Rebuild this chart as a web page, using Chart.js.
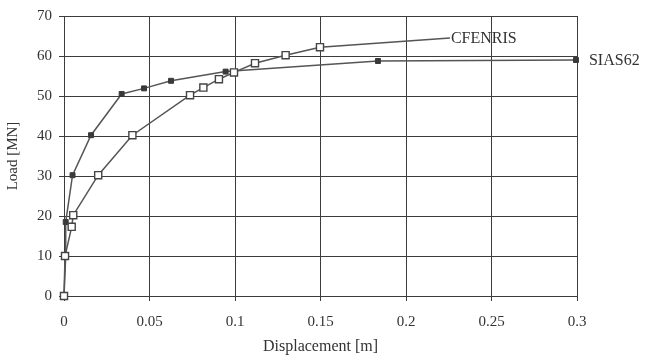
<!DOCTYPE html>
<html>
<head>
<meta charset="utf-8">
<script src="https://cdn.jsdelivr.net/npm/chart.js@4"></script>
<style>
  html, body { margin: 0; padding: 0; background: #fff; }
  #wrap { width: 646px; height: 355px; position: relative; }
</style>
</head>
<body>
<div id="wrap"><canvas id="loadChart"></canvas></div>
<script>
// Series data
const fenrisX = [0, 0.0006, 0.0045, 0.0054, 0.020, 0.040, 0.0737, 0.0815, 0.0906, 0.0994, 0.1117, 0.1296, 0.1497, 0.2257];
const fenrisY = [0, 10, 17.3, 20.2, 30.2, 40.2, 50.2, 52.1, 54.2, 55.9, 58.2, 60.2, 62.2, 64.5];
const siasX = [0, 0.001, 0.001, 0.005, 0.0158, 0.0337, 0.0468, 0.0626, 0.0945, 0.1836, 0.2994];
const siasY = [0, 10, 18.5, 30.2, 40.2, 50.5, 51.9, 53.8, 56.1, 58.75, 59];
const seriesNames = ['CFENRIS', 'SIAS62'];
const xTicks = [0, 0.05, 0.1, 0.15, 0.2, 0.25, 0.3];
const yTicks = [0, 10, 20, 30, 40, 50, 60, 70];

const serif = '"Liberation Serif", "DejaVu Serif", serif';
const toPoints = (xs, ys) => xs.map((x, i) => ({ x: x, y: ys[i] }));

// last point of FENRIS line has no marker (label sits there)
const fenrisRadius = fenrisX.map((_, i) => i === fenrisX.length - 1 ? 0 : 5);

// draws the series names next to the line ends
const endLabels = {
    id: 'endLabels',
    afterDatasetsDraw(chart) {
        const ctx = chart.ctx;
        const xs = chart.scales.x, ys = chart.scales.y;
        ctx.save();
        ctx.font = '16px ' + serif;
        ctx.fillStyle = '#333';
        ctx.textBaseline = 'middle';
        ctx.textAlign = 'left';
        const fLast = fenrisX.length - 1;
        ctx.fillText(seriesNames[0], xs.getPixelForValue(fenrisX[fLast]) + 1, ys.getPixelForValue(fenrisY[fLast]) + 1);
        const sLast = siasX.length - 1;
        ctx.fillText(seriesNames[1], xs.getPixelForValue(siasX[sLast]) + 13, ys.getPixelForValue(siasY[sLast]) + 1);
        ctx.restore();
    }
};

const ctx = document.getElementById('loadChart').getContext('2d');
new Chart(ctx, {
    type: 'scatter',
    data: {
        datasets: [
            {
                label: seriesNames[0],
                data: toPoints(fenrisX, fenrisY),
                showLine: true,
                clip: false,
                borderColor: '#555',
                borderWidth: 1.5,
                pointStyle: 'rect',
                pointRadius: fenrisRadius,
                pointBackgroundColor: '#fff',
                pointBorderColor: '#444',
                pointBorderWidth: 1.4,
                tension: 0
            },
            {
                label: seriesNames[1],
                data: toPoints(siasX, siasY),
                showLine: true,
                clip: false,
                borderColor: '#555',
                borderWidth: 1.5,
                pointStyle: 'rect',
                pointRadius: 3.5,
                pointBackgroundColor: '#3a3a3a',
                pointBorderColor: '#3a3a3a',
                pointBorderWidth: 1,
                tension: 0
            }
        ]
    },
    options: {
        responsive: true,
        maintainAspectRatio: false,
        animation: false,
        layout: { padding: { top: 16, right: 69, left: 0, bottom: 0 } },
        plugins: {
            legend: { display: false },
            tooltip: { enabled: false }
        },
        scales: {
            x: {
                type: 'linear',
                min: 0,
                max: 0.3,
                afterBuildTicks: (axis) => { axis.ticks = xTicks.map(v => ({ value: v })); },
                afterFit: (axis) => { axis.height = 59; },
                ticks: {
                    color: '#333',
                    padding: 12,
                    callback: (v) => String(Math.round(v * 100) / 100),
                    font: { family: serif, size: 15 }
                },
                grid: { color: '#3c3c3c', lineWidth: 1, tickLength: 5 },
                border: { color: '#3c3c3c' },
                title: {
                    display: true,
                    text: 'Displacement [m]',
                    color: '#333',
                    padding: { top: 0, bottom: 0 },
                    font: { family: serif, size: 16, lineHeight: 1 }
                }
            },
            y: {
                type: 'linear',
                min: 0,
                max: 70,
                afterBuildTicks: (axis) => { axis.ticks = yTicks.map(v => ({ value: v })); },
                afterFit: (axis) => { axis.width = 64; },
                ticks: {
                    color: '#333',
                    padding: 7,
                    font: { family: serif, size: 15 }
                },
                grid: { color: '#3c3c3c', lineWidth: 1, tickLength: 5 },
                border: { color: '#3c3c3c' },
                title: {
                    display: true,
                    text: 'Load [MN]',
                    color: '#333',
                    padding: { bottom: 0, top: 4 },
                    font: { family: serif, size: 15 }
                }
            }
        }
    },
    plugins: [endLabels]
});
</script>
</body>
</html>
